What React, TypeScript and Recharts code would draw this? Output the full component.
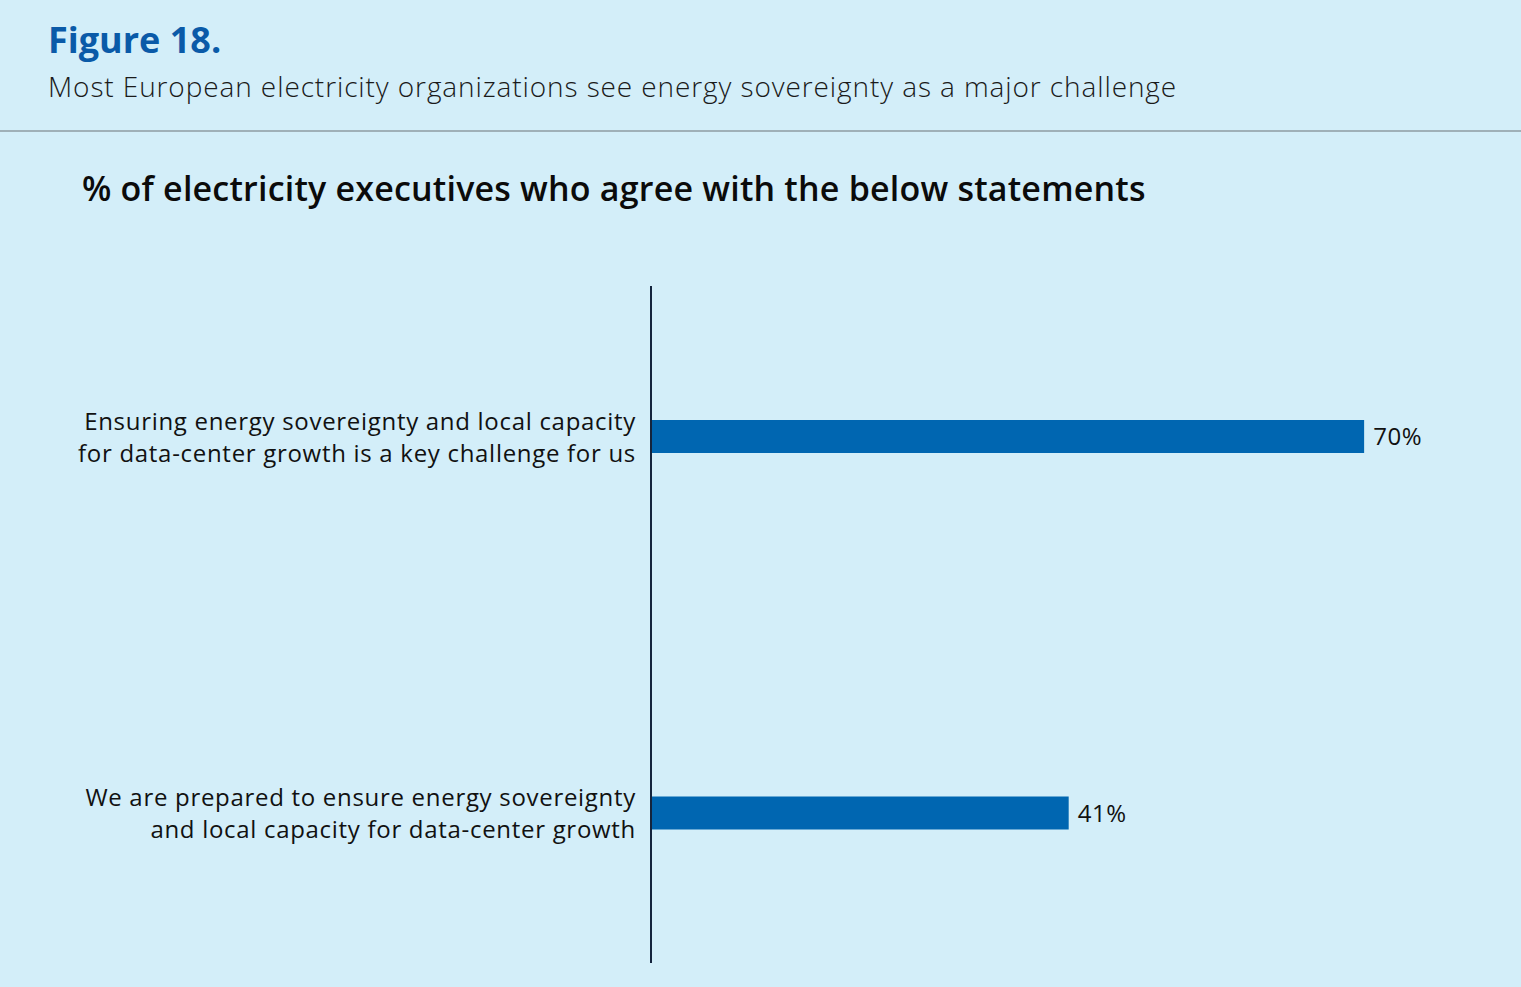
import React from "react";
import { BarChart, Bar, XAxis, YAxis, LabelList } from "recharts";

// Survey statements (each split over two lines) and share of executives agreeing
const statementLines: string[][] = [
  ["Ensuring energy sovereignty and local capacity", "for data-center growth is a key challenge for us"],
  ["We are prepared to ensure energy sovereignty", "and local capacity for data-center growth"],
];
const statementKeys = ["challenge", "prepared"];
const agreeShares = [70, 41];

const data = statementKeys.map((key, i) => ({ key, value: agreeShares[i], lines: statementLines[i] }));

const FONT = "'Open Sans', 'Noto Sans', sans-serif";
const BG = "#d3eef9";
const BAR = "#0066b1";

const StatementTick = (props: any) => {
  const { x, y, payload } = props;
  const idx = statementKeys.indexOf(payload.value);
  const lines = statementLines[idx] || [];
  const lh = 32;
  const start = -((lines.length - 1) * lh) / 2;
  return (
    <text x={x - 7} y={y} textAnchor="end" fontFamily={FONT} fontSize={24} letterSpacing={0.7} fill="#111">
      {lines.map((l, i) => (
        <tspan key={i} x={x - 7} y={y + start + i * lh + 1} dy="0.35em">
          {l}
        </tspan>
      ))}
    </text>
  );
};

export default function App() {
  return (
    <div style={{ position: "absolute", left: 0, top: 0, width: 1521, height: 987, background: BG, overflow: "hidden" }}>
      <div style={{ position: "absolute", left: 48, top: 15, fontFamily: FONT, fontWeight: 700, fontSize: 36, color: "#0a5aa8" }}>
        Figure 18.
      </div>
      <div style={{ position: "absolute", left: 48, top: 67, fontFamily: FONT, fontWeight: 300, fontSize: 28, letterSpacing: 0.9, color: "#1a1a1a", whiteSpace: "nowrap" }}>
        Most European electricity organizations see energy sovereignty as a major challenge
      </div>
      <div style={{ position: "absolute", left: 0, top: 130, width: 1521, height: 2, background: "#9fb0b8" }} />
      <div style={{ position: "absolute", left: 82, top: 165, fontFamily: FONT, fontWeight: 600, fontSize: 34, letterSpacing: 0.2, color: "#0b0b0b", whiteSpace: "nowrap" }}>
        % of electricity executives who agree with the below statements
      </div>
      <div style={{ position: "absolute", left: 0, top: 0 }}>
        <BarChart
          width={1521}
          height={987}
          data={data}
          layout="vertical"
          margin={{ top: 286, right: 55, bottom: 24, left: 0 }}
        >
          <XAxis type="number" domain={[0, 80]} hide />
          <YAxis
            type="category"
            dataKey="key"
            width={651}
            padding={{ top: -38, bottom: -38 }}
            axisLine={{ stroke: "#14243d", strokeWidth: 2 }}
            tickLine={false}
            tick={<StatementTick />}
            interval={0}
          />
          <Bar dataKey="value" fill={BAR} barSize={33} isAnimationActive={false}>
            <LabelList
              dataKey="value"
              position="right"
              offset={9}
              formatter={(v: any) => `${v}%`}
              style={{ fontFamily: FONT, fontSize: 24, letterSpacing: 0.6, fill: "#111" }}
            />
          </Bar>
        </BarChart>
      </div>
    </div>
  );
}
